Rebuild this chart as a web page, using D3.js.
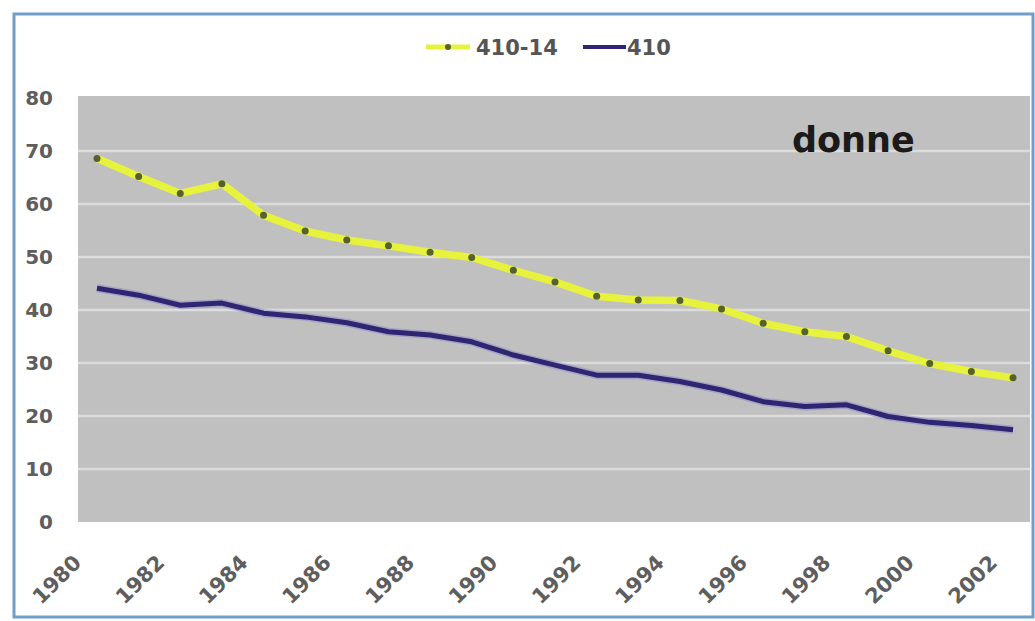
<!DOCTYPE html>
<html>
<head>
<meta charset="utf-8">
<script src="https://cdn.jsdelivr.net/npm/d3@7"></script>
<style>
  html, body { margin: 0; padding: 0; background: #ffffff; }
  svg { display: block; }
</style>
</head>
<body>
<svg id="chart" width="1035" height="621"></svg>
<script>
// Years on the category axis
const years = [1980, 1981, 1982, 1983, 1984, 1985, 1986, 1987, 1988, 1989, 1990, 1991,
               1992, 1993, 1994, 1995, 1996, 1997, 1998, 1999, 2000, 2001, 2002];

// Series "410-14"
const series41014 = [68.6, 65.2, 62.0, 63.8, 57.9, 54.9, 53.2, 52.1, 50.9, 49.9, 47.5, 45.3,
                     42.6, 41.9, 41.8, 40.2, 37.5, 35.9, 35.0, 32.3, 29.9, 28.4, 27.2];

// Series "410"
const series410 = [44.1, 42.8, 40.9, 41.3, 39.4, 38.7, 37.6, 35.9, 35.3, 34.0, 31.5, 29.6,
                   27.7, 27.7, 26.5, 24.9, 22.7, 21.8, 22.1, 19.9, 18.8, 18.2, 17.4];

// Axis ticks and labels
const yTicks = [0, 10, 20, 30, 40, 50, 60, 70, 80];
const xLabelYears = [1980, 1982, 1984, 1986, 1988, 1990, 1992, 1994, 1996, 1998, 2000, 2002];
const seriesNames = ["410-14", "410"];
const panelTitle = "donne";

const svg = d3.select("#chart");

const plot = { left: 78, right: 1030, top: 96, bottom: 522 };

const x = d3.scalePoint().domain(years).range([97, 1013]);
const y = d3.scaleLinear().domain([0, 80]).range([plot.bottom, 98]);

// outer chart frame
svg.append("rect")
  .attr("x", 14).attr("y", 14).attr("width", 1019).attr("height", 603)
  .attr("fill", "#ffffff").attr("stroke", "#6e9fcc").attr("stroke-width", 3);

// plot area background
svg.append("rect")
  .attr("x", plot.left).attr("y", plot.top)
  .attr("width", plot.right - plot.left).attr("height", plot.bottom - plot.top)
  .attr("fill", "#c0c0c0");

// horizontal gridlines
svg.append("g").selectAll("line")
  .data(yTicks.filter(d => d > 0 && d < 80))
  .join("line")
  .attr("x1", plot.left).attr("x2", plot.right)
  .attr("y1", d => y(d)).attr("y2", d => y(d))
  .attr("stroke", "#dcdcdc").attr("stroke-width", 2.5);

// y axis labels
const yAxis = d3.axisLeft(y).tickValues(yTicks).tickSize(0).tickPadding(0);
const gy = svg.append("g").attr("transform", "translate(53,0)").call(yAxis);
gy.select(".domain").remove();
gy.selectAll("text")
  .attr("font-family", "DejaVu Sans, Verdana, sans-serif")
  .attr("font-weight", "bold")
  .attr("font-size", 20)
  .attr("fill", "#5e5e5e");

// x axis labels (every other year, rotated)
const xAxis = d3.axisBottom(x).tickValues(xLabelYears).tickSize(0).tickPadding(0);
const gx = svg.append("g").attr("transform", `translate(0,${plot.bottom})`).call(xAxis);
gx.select(".domain").remove();
gx.selectAll("text")
  .attr("font-family", "DejaVu Sans, Verdana, sans-serif")
  .attr("font-weight", "bold")
  .attr("font-size", 21)
  .attr("fill", "#5e5e5e")
  .attr("text-anchor", "end")
  .attr("dy", 0)
  .attr("y", 0)
  .attr("transform", "translate(-15,42) rotate(-45)");

const line = d3.line()
  .x((d, i) => x(years[i]))
  .y(d => y(d));

// "410" series
svg.append("path")
  .datum(series410)
  .attr("d", line)
  .attr("fill", "none")
  .attr("stroke", "#8a84c8")
  .attr("stroke-opacity", 0.5)
  .attr("stroke-width", 8)
  .attr("stroke-linejoin", "round");
svg.append("path")
  .datum(series410)
  .attr("d", line)
  .attr("fill", "none")
  .attr("stroke", "#2e2672")
  .attr("stroke-width", 5)
  .attr("stroke-linejoin", "round");

// "410-14" series
svg.append("path")
  .datum(series41014)
  .attr("d", line)
  .attr("fill", "none")
  .attr("stroke", "#e6f23c")
  .attr("stroke-width", 7.5)
  .attr("stroke-linejoin", "round");
svg.append("g").selectAll("circle")
  .data(series41014)
  .join("circle")
  .attr("cx", (d, i) => x(years[i]))
  .attr("cy", d => y(d))
  .attr("r", 3.5)
  .attr("fill", "#55622e");

// legend
const legend = svg.append("g").attr("font-family", "DejaVu Sans, Verdana, sans-serif")
  .attr("font-weight", "bold").attr("font-size", 21).attr("fill", "#555555");
const legendItems = [
  { name: seriesNames[0], x1: 426, x2: 470, color: "#e6f23c", width: 5, marker: true, tx: 476 },
  { name: seriesNames[1], x1: 583, x2: 626, color: "#2e2672", width: 4, marker: false, tx: 627 }
];
legendItems.forEach(it => {
  legend.append("line")
    .attr("x1", it.x1).attr("x2", it.x2).attr("y1", 47).attr("y2", 47)
    .attr("stroke", it.color).attr("stroke-width", it.width);
  if (it.marker) {
    legend.append("circle").attr("cx", (it.x1 + it.x2) / 2).attr("cy", 47).attr("r", 3)
      .attr("fill", "#55622e");
  }
  legend.append("text").attr("x", it.tx).attr("y", 47).attr("dy", "0.36em").text(it.name);
});

// panel title
svg.append("text")
  .attr("x", 792).attr("y", 152)
  .attr("font-family", "DejaVu Sans, Verdana, sans-serif")
  .attr("font-weight", "bold")
  .attr("font-size", 35)
  .attr("fill", "#1a1a1a")
  .text(panelTitle);
</script>
</body>
</html>
